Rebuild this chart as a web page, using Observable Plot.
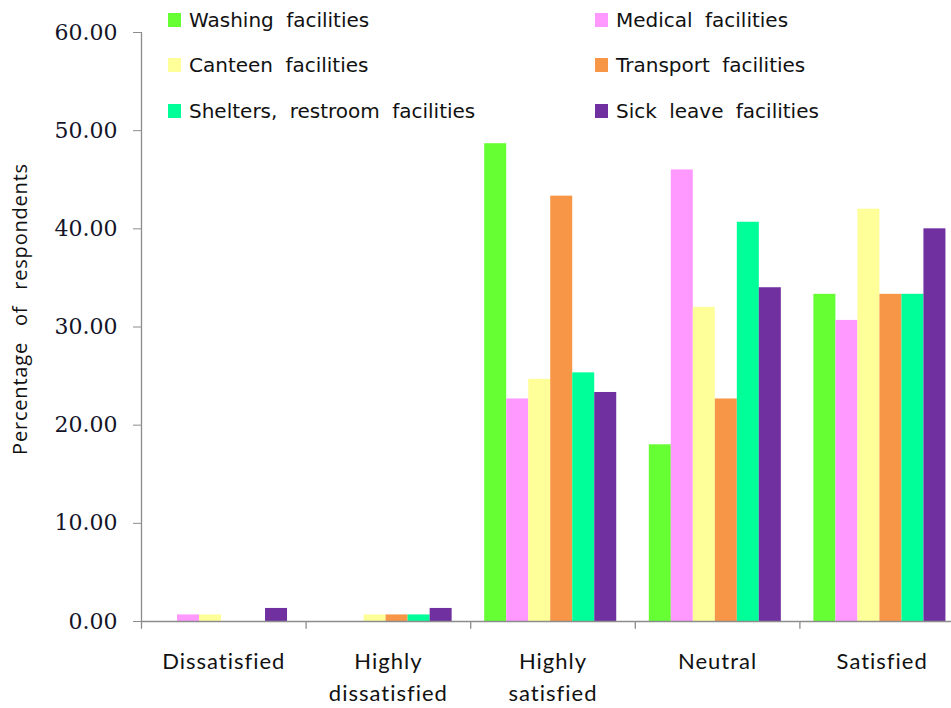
<!DOCTYPE html>
<html>
<head>
<meta charset="utf-8">
<script src="https://cdn.jsdelivr.net/npm/d3@7"></script>
<script src="https://cdn.jsdelivr.net/npm/@observablehq/plot@0.6"></script>
<style>
  html, body { margin: 0; padding: 0; background: #fff; overflow: hidden; }
  #wrap { position: relative; width: 951px; height: 708px; overflow: hidden; }
  #wrap svg { max-width: none !important; display: block; }
  #legend { position: absolute; left: 168px; top: -3px; display: grid;
    grid-template-columns: 427px auto; grid-auto-rows: 45.5px;
    font-family: "DejaVu Sans", sans-serif; font-size: 20px; color: #111; word-spacing: 6px; }
  .item { display: flex; align-items: center; white-space: nowrap; }
  .sw { width: 13px; height: 14px; margin-right: 8px; display: inline-block; flex: none; }
</style>
</head>
<body>
<div id="wrap"><div id="legend"></div></div>
<script>
const categories = ["Dissatisfied", "Highly dissatisfied", "Highly satisfied", "Neutral", "Satisfied"];
const categoryLabels = ["Dissatisfied", "Highly\ndissatisfied", "Highly\nsatisfied", "Neutral", "Satisfied"];
const series = ["Washing facilities", "Medical facilities", "Canteen facilities", "Transport facilities", "Shelters, restroom facilities", "Sick leave facilities"];
const colors = ["#66ff33", "#ff99ff", "#ffff99", "#f79646", "#00ff99", "#7030a0"];
const washing   = [0.00, 0.00, 48.67, 18.00, 33.33];
const medical   = [0.67, 0.00, 22.67, 46.00, 30.67];
const canteen   = [0.67, 0.67, 24.67, 32.00, 42.00];
const transport = [0.00, 0.67, 43.33, 22.67, 33.33];
const shelters  = [0.00, 0.67, 25.33, 40.67, 33.33];
const sickLeave = [1.33, 1.33, 23.33, 34.00, 40.00];
const yTicks = [0, 10, 20, 30, 40, 50, 60];
const yLabel = "Percentage of respondents";

const valuesBySeries = [washing, medical, canteen, transport, shelters, sickLeave];
const data = [];
series.forEach((s, i) => categories.forEach((c, j) => data.push({category: c, series: s, value: valuesBySeries[i][j]})));

const width = 964, height = 708, marginLeft = 141, marginRight = 0, marginTop = 32, marginBottom = 87;
const paddingOuter = 0.74, align = 0.43;
const facetW = (width - marginLeft - marginRight) / categories.length;
const step = facetW / (series.length + 2 * paddingOuter);
const bandStart = (facetW - series.length * step) * align;
const firstCenter = bandStart + step / 2;

const chart = Plot.plot({
  width, height, marginLeft, marginRight, marginTop, marginBottom,
  style: {background: "#fff", overflow: "visible"},
  fx: {domain: categories, padding: 0, label: null, round: false},
  x: {domain: series, paddingInner: 0, paddingOuter, align, axis: null, round: false},
  y: {domain: [0, 60], label: null},
  color: {domain: series, range: colors},
  marks: [
    Plot.barY(data, {fx: "category", x: "series", y: "value", fill: "series"}),
    Plot.ruleY([0], {stroke: "#8c8c8c", strokeWidth: 1.3}),
    Plot.ruleX(categories, {fx: d => d, x: () => series[0], dx: -firstCenter,
      y1: -0.8, y2: (d, i) => i === 0 ? 60 : 0, stroke: "#8c8c8c", strokeWidth: 1.3}),
    Plot.axisY({ticks: yTicks, tickFormat: d3.format(".2f"), tickSize: 8, tickPadding: 16,
      stroke: "#8c8c8c", fill: "#141428", fontFamily: "DejaVu Serif", fontSize: 22, label: null}),
    Plot.text([yLabel], {fx: () => categories[0], text: d => d, frameAnchor: "left", rotate: -90,
      textAnchor: "middle", dx: -121, dy: -18, fontFamily: "Open Sans", fontSize: 20, fill: "#111"}),
    Plot.axisFx({anchor: "bottom", tickSize: 0, tickPadding: 25, label: null,
      tickFormat: d => categoryLabels[categories.indexOf(d)],
      fontFamily: "Lato", fontSize: 22, fill: "#111", lineHeight: 1.45})
  ]
});
const wrap = document.getElementById("wrap");
wrap.insertBefore(chart, wrap.firstChild);
chart.querySelectorAll("text").forEach(t => {
  if (t.textContent === yLabel) { t.style.wordSpacing = "10px"; t.style.letterSpacing = "0.8px"; }
});
chart.querySelectorAll("g[aria-label='fx-axis tick label'] text").forEach(t => { t.style.letterSpacing = "1px"; });

const legend = document.getElementById("legend");
series.forEach((s, i) => {
  const item = document.createElement("div");
  item.className = "item";
  const sw = document.createElement("span");
  sw.className = "sw";
  sw.style.background = colors[i];
  item.appendChild(sw);
  item.appendChild(document.createTextNode(s));
  legend.appendChild(item);
});
</script>
</body>
</html>
